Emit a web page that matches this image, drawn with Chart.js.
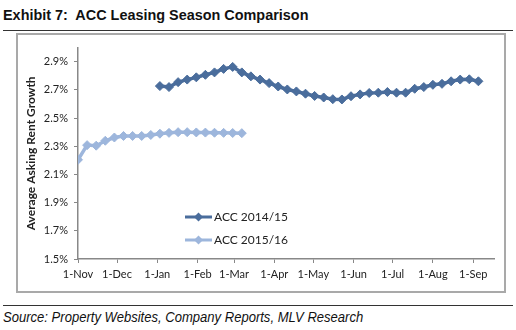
<!DOCTYPE html>
<html>
<head>
<meta charset="utf-8">
<script src="https://cdn.jsdelivr.net/npm/chart.js@4"></script>
<style>
  html, body { margin: 0; padding: 0; background: #fff; }
  body { width: 516px; height: 330px; position: relative; overflow: hidden; font-family: "Liberation Sans", Arial, sans-serif; }
  #title { position: absolute; left: 3px; top: 6px; font-weight: bold; font-size: 15.5px; color: #111; white-space: nowrap; transform: scaleX(0.93); transform-origin: left top; }
  .rule { position: absolute; left: 3px; width: 510px; height: 0; border-top: 1.5px solid #333; }
  #box { position: absolute; left: 16px; top: 33px; width: 486px; height: 256px; border: 2px solid #a9a9a9; }
  #box canvas { display: block; }
  #source { position: absolute; left: 3px; top: 308px; font-style: italic; font-size: 15px; color: #111; white-space: nowrap; transform: scaleX(0.87); transform-origin: left top; }
</style>
</head>
<body>
<div id="title">Exhibit 7:&nbsp; ACC Leasing Season Comparison</div>
<div class="rule" style="top:29.5px"></div>
<div id="box"><canvas id="chart" width="486" height="256"></canvas></div>
<div class="rule" style="top:304.5px"></div>
<div id="source">Source: Property Websites, Company Reports, MLV Research</div>

<script>
// days since 1-Nov
const monthDays = [0, 30, 61, 92, 120, 151, 181, 212, 242, 273, 304];
const monthLabels = ["1-Nov", "1-Dec", "1-Jan", "1-Feb", "1-Mar", "1-Apr", "1-May", "1-Jun", "1-Jul", "1-Aug", "1-Sep"];
const yTicks = [1.5, 1.7, 1.9, 2.1, 2.3, 2.5, 2.7, 2.9];

const days1415 = [63, 70, 77, 84, 91, 98, 105, 112, 119, 126, 133, 140, 147, 154, 161, 168, 175, 182,
  189, 196, 203, 210, 217, 224, 231, 238, 245, 252, 259, 266, 273, 280, 287, 294, 301, 308];
const acc1415 = [2.727, 2.720, 2.755, 2.773, 2.789, 2.807, 2.824, 2.849, 2.863, 2.824, 2.796, 2.773,
  2.748, 2.724, 2.703, 2.689, 2.673, 2.657, 2.646, 2.634, 2.632, 2.655, 2.668, 2.678, 2.680, 2.685,
  2.680, 2.680, 2.708, 2.720, 2.736, 2.743, 2.761, 2.773, 2.775, 2.761];

const days1516 = [0, 7, 14, 21, 28, 35, 42, 49, 56, 63, 70, 77, 84, 91, 98, 105, 112, 119, 126];
const acc1516 = [2.204, 2.308, 2.304, 2.339, 2.362, 2.373, 2.373, 2.373, 2.380, 2.389, 2.395, 2.400,
  2.400, 2.398, 2.397, 2.396, 2.395, 2.394, 2.393];

const seriesNames = ["ACC 2014/15", "ACC 2015/16"];
const darkBlue = "#4a6d9c";
const lightBlue = "#9db6dc";

const tickFont = { family: "Lato", size: 11 };

function lineSet(label, days, vals, color) {
  return {
    label: label,
    data: days.map((d, i) => ({ x: d, y: vals[i] })),
    borderColor: color,
    backgroundColor: color,
    pointBackgroundColor: color,
    pointBorderColor: color,
    borderWidth: 3.5,
    pointStyle: "rectRot",
    pointRadius: 4.5,
    pointBorderWidth: 1,
    tension: 0,
  };
}

// legend drawn inside the plot, like the Excel original
const insideLegend = {
  id: "insideLegend",
  afterDraw(chart) {
    const ctx = chart.ctx;
    ctx.save();
    chart.data.datasets.forEach((ds, i) => {
      const y = 182 + i * 23;
      ctx.strokeStyle = ds.borderColor;
      ctx.lineWidth = 3;
      ctx.beginPath();
      ctx.moveTo(167, y);
      ctx.lineTo(194, y);
      ctx.stroke();
      ctx.fillStyle = ds.borderColor;
      ctx.beginPath();
      ctx.moveTo(180.5, y - 4.5);
      ctx.lineTo(185, y);
      ctx.lineTo(180.5, y + 4.5);
      ctx.lineTo(176, y);
      ctx.closePath();
      ctx.fill();
      ctx.fillStyle = "#222";
      ctx.font = "12px Lato";
      ctx.textBaseline = "middle";
      ctx.textAlign = "left";
      ctx.fillText(ds.label, 196, y);
    });
    ctx.restore();
  },
};

new Chart(document.getElementById("chart"), {
  type: "line",
  data: {
    datasets: [
      lineSet(seriesNames[0], days1415, acc1415, darkBlue),
      lineSet(seriesNames[1], days1516, acc1516, lightBlue),
    ],
  },
  options: {
    responsive: false,
    animation: false,
    layout: { padding: { top: 8, right: 10, left: 0, bottom: 0 } },
    plugins: { legend: { display: false }, tooltip: { enabled: false } },
    scales: {
      x: {
        type: "linear",
        min: 0,
        max: 320,
        afterFit(s) { s.height = 32; },
        afterBuildTicks(s) { s.ticks = monthDays.map(v => ({ value: v })); },
        ticks: {
          callback: v => monthLabels[monthDays.indexOf(v)],
          autoSkip: false,
          maxRotation: 0,
          padding: 5,
          color: "#222",
          font: tickFont,
        },
        grid: { display: true, drawOnChartArea: false, drawTicks: true, tickLength: 4, color: "#888" },
        border: { color: "#888", width: 1.5 },
      },
      y: {
        min: 1.5,
        max: 3.0,
        afterFit(s) { s.width = 60; },
        afterBuildTicks(s) { s.ticks = yTicks.map(v => ({ value: v })); },
        ticks: {
          callback: v => v.toFixed(1) + "%",
          padding: 6,
          color: "#222",
          font: tickFont,
        },
        grid: { display: true, drawOnChartArea: false, drawTicks: true, tickLength: 4, color: "#888" },
        border: { color: "#888", width: 1.5 },
        title: {
          display: true,
          text: "Average Asking Rent Growth",
          color: "#222",
          font: { family: "Lato", size: 12, weight: "bold" },
          padding: { top: 6, bottom: 0 },
        },
      },
    },
  },
  plugins: [insideLegend],
});
</script>
</body>
</html>
